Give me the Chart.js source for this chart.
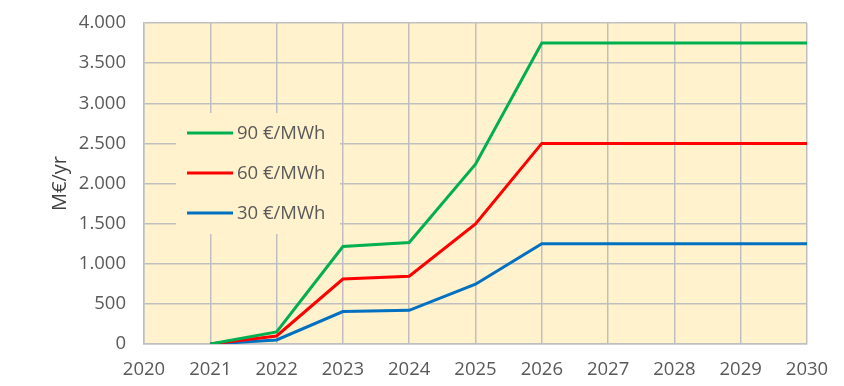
<!DOCTYPE html>
<html lang="en">
<head>
<meta charset="UTF-8" />
<title>M€/yr by price</title>
<script src="https://cdn.jsdelivr.net/npm/chart.js@4.4.1/dist/chart.umd.min.js"></script>
<style>
  html, body { margin: 0; padding: 0; background: #fff; }
  .container { width: 844px; height: 386px; }
</style>
</head>
<body>
<div class="container">
  <canvas id="myChart" width="844" height="386"></canvas>
</div>
<script>
  // values
  const years = [2021, 2022, 2023, 2024, 2025, 2026, 2027, 2028, 2029, 2030];
  const price90 = [0, 150, 1215, 1265, 2240, 3750, 3750, 3750, 3750, 3750];
  const price60 = [0, 100, 810, 845, 1495, 2500, 2500, 2500, 2500, 2500];
  const price30 = [0, 50, 405, 420, 745, 1250, 1250, 1250, 1250, 1250];
  const seriesLabels = ['90 €/MWh', '60 €/MWh', '30 €/MWh'];

  const textColor = '#595959';
  const gridColor = '#BFBFBF';
  const fontFamily = '"Open Sans", sans-serif';

  function points(vals) {
    return years.map((x, i) => ({ x: x, y: vals[i] }));
  }

  function dotThousands(v) {
    return String(v).replace(/\B(?=(\d{3})+(?!\d))/g, '.');
  }

  // plot area background
  const areaFill = {
    id: 'areaFill',
    beforeDraw(chart) {
      const { ctx, chartArea: a } = chart;
      ctx.save();
      ctx.fillStyle = '#FFF2CC';
      ctx.fillRect(a.left, a.top, a.right - a.left, a.bottom - a.top);
      ctx.restore();
    }
  };

  // legend box drawn inside the plot area
  const innerLegend = {
    id: 'innerLegend',
    beforeDatasetsDraw(chart) {
      const ctx = chart.ctx;
      ctx.save();
      ctx.fillStyle = '#FFF2CC';
      ctx.fillRect(176, 113, 164, 121);
      ctx.font = '18.5px ' + fontFamily;
      ctx.textBaseline = 'middle';
      chart.data.datasets.forEach((ds, i) => {
        const y = 133 + i * 40;
        ctx.strokeStyle = ds.borderColor;
        ctx.lineWidth = 3;
        ctx.beginPath();
        ctx.moveTo(187, y);
        ctx.lineTo(233, y);
        ctx.stroke();
        ctx.fillStyle = textColor;
        ctx.fillText(ds.label, 237, y + 1);
      });
      ctx.restore();
    }
  };

  const ctx = document.getElementById('myChart').getContext('2d');
  const myChart = new Chart(ctx, {
    type: 'line',
    data: {
      datasets: [
        { label: seriesLabels[0], data: points(price90), borderColor: '#00B050' },
        { label: seriesLabels[1], data: points(price60), borderColor: '#FF0000' },
        { label: seriesLabels[2], data: points(price30), borderColor: '#0070C0' }
      ]
    },
    options: {
      responsive: false,
      animation: false,
      layout: { padding: { left: 0, right: 37, top: 23, bottom: 0 } },
      elements: {
        line: { borderWidth: 3, tension: 0, fill: false },
        point: { radius: 0 }
      },
      plugins: {
        legend: { display: false },
        tooltip: { enabled: false }
      },
      scales: {
        x: {
          type: 'linear',
          min: 2020,
          max: 2030,
          ticks: {
            stepSize: 1,
            color: textColor,
            font: { family: fontFamily, size: 18.5 },
            padding: 15,
            callback: v => String(v)
          },
          grid: { color: gridColor, lineWidth: 1.5, drawTicks: false },
          border: { color: gridColor, width: 1.5 },
          afterFit(s) { s.height = 42; s.paddingLeft = 0; s.paddingRight = 0; }
        },
        y: {
          min: 0,
          max: 4000,
          ticks: {
            stepSize: 500,
            color: textColor,
            font: { family: fontFamily, size: 18.5 },
            padding: 18,
            callback: v => dotThousands(v)
          },
          grid: { color: gridColor, lineWidth: 1.5, drawTicks: false },
          border: { color: gridColor, width: 1.5 },
          title: {
            display: true,
            text: 'M€/yr',
            color: '#404040',
            font: { family: fontFamily, size: 20 },
            padding: { top: 48, bottom: 0 }
          },
          afterFit(s) { s.width = 144; s.paddingTop = 0; s.paddingBottom = 0; }
        }
      }
    },
    plugins: [areaFill, innerLegend]
  });
</script>
</body>
</html>
